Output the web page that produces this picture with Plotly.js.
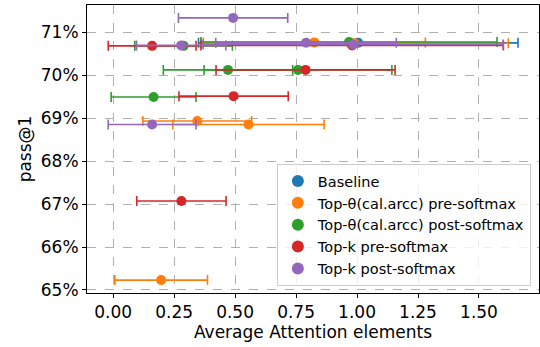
<!DOCTYPE html>
<html>
<head>
<meta charset="utf-8">
<script src="https://cdn.plot.ly/plotly-3.0.1.min.js"></script>
<style>html,body{margin:0;padding:0;background:#fff;}#chart{width:540px;height:347px;}</style>
</head>
<body>
<div id="chart"></div>
<script>
const seriesNames = ["Baseline", "Top-θ(cal.arcc) pre-softmax", "Top-θ(cal.arcc) post-softmax", "Top-k pre-softmax", "Top-k post-softmax"];
const seriesColors = ["#1f77b4", "#ff7f0e", "#2ca02c", "#d62728", "#9467bd"];

const baselineX = [1.005];
const baselineY = [70.75];
const baselineErr = [0.655];

const topThetaPreX = [0.825, 0.99, 0.345, 0.555, 0.197];
const topThetaPreY = [70.76, 70.74, 68.93, 68.85, 65.23];
const topThetaPreErr = [0.455, 0.63, 0.223, 0.31, 0.19];

const topThetaPostX = [0.967, 0.289, 0.471, 0.758, 0.166];
const topThetaPostY = [70.77, 70.68, 70.12, 70.12, 69.49];
const topThetaPostErr = [0.607, 0.2, 0.265, 0.385, 0.174];

const topKPreX = [0.98, 0.16, 0.789, 0.494, 0.28];
const topKPreY = [70.69, 70.68, 70.12, 69.51, 67.07];
const topKPreErr = [0.62, 0.18, 0.367, 0.224, 0.183];

const topKPostX = [0.492, 0.984, 0.791, 0.279, 0.16];
const topKPostY = [71.33, 70.71, 70.75, 70.69, 68.85];
const topKPostErr = [0.224, 0.615, 0.37, 0.183, 0.18];

const yTicks = [65, 66, 67, 68, 69, 70, 71];
const yTickText = ["65%", "66%", "67%", "68%", "69%", "70%", "71%"];
const xTicks = [0, 0.25, 0.5, 0.75, 1.0, 1.25, 1.5];
const xTickText = ["0.00", "0.25", "0.50", "0.75", "1.00", "1.25", "1.50"];

const allX = [baselineX, topThetaPreX, topThetaPostX, topKPreX, topKPostX];
const allY = [baselineY, topThetaPreY, topThetaPostY, topKPreY, topKPostY];
const allErr = [baselineErr, topThetaPreErr, topThetaPostErr, topKPreErr, topKPostErr];

const traces = seriesNames.map((name, i) => ({
  type: "scatter",
  mode: "markers",
  name: name,
  x: allX[i],
  y: allY[i],
  marker: {color: seriesColors[i], size: 10},
  error_x: {type: "data", array: allErr[i], visible: true, color: seriesColors[i], thickness: 1.6, width: 5}
}));

const font = "DejaVu Sans";
const layout = {
  width: 540, height: 347,
  margin: {l: 87, r: 1, t: 5, b: 54, autoexpand: false},
  paper_bgcolor: "#fff", plot_bgcolor: "#fff",
  font: {family: font, color: "#000"},
  showlegend: true,
  legend: {
    x: 0.982, y: 0.024, xanchor: "right", yanchor: "bottom",
    bgcolor: "rgba(255,255,255,0.8)", bordercolor: "#cccccc", borderwidth: 1,
    font: {family: font, size: 14.5, color: "#000"},
    itemsizing: "constant", tracegroupgap: 0
  },
  xaxis: {
    range: [-0.107, 1.746],
    tickvals: xTicks, ticktext: xTickText,
    tickfont: {family: font, size: 17},
    ticks: "outside", ticklen: 4, tickcolor: "#000",
    showline: true, linecolor: "#000", linewidth: 1, mirror: true,
    showgrid: true, gridcolor: "#b0b0b0", griddash: "dash", gridwidth: 1,
    zeroline: false,
    title: {text: "Average Attention elements", font: {family: font, size: 17}, standoff: 4}
  },
  yaxis: {
    range: [64.93, 71.63],
    tickvals: yTicks, ticktext: yTickText,
    tickfont: {family: font, size: 17},
    ticks: "outside", ticklen: 4, tickcolor: "#000",
    showline: true, linecolor: "#000", linewidth: 1, mirror: true,
    showgrid: true, gridcolor: "#b0b0b0", griddash: "dash", gridwidth: 1,
    zeroline: false,
    title: {text: "pass@1", font: {family: font, size: 17}, standoff: 4}
  }
};

Plotly.newPlot("chart", traces, layout, {displayModeBar: false, staticPlot: true});
</script>
</body>
</html>
